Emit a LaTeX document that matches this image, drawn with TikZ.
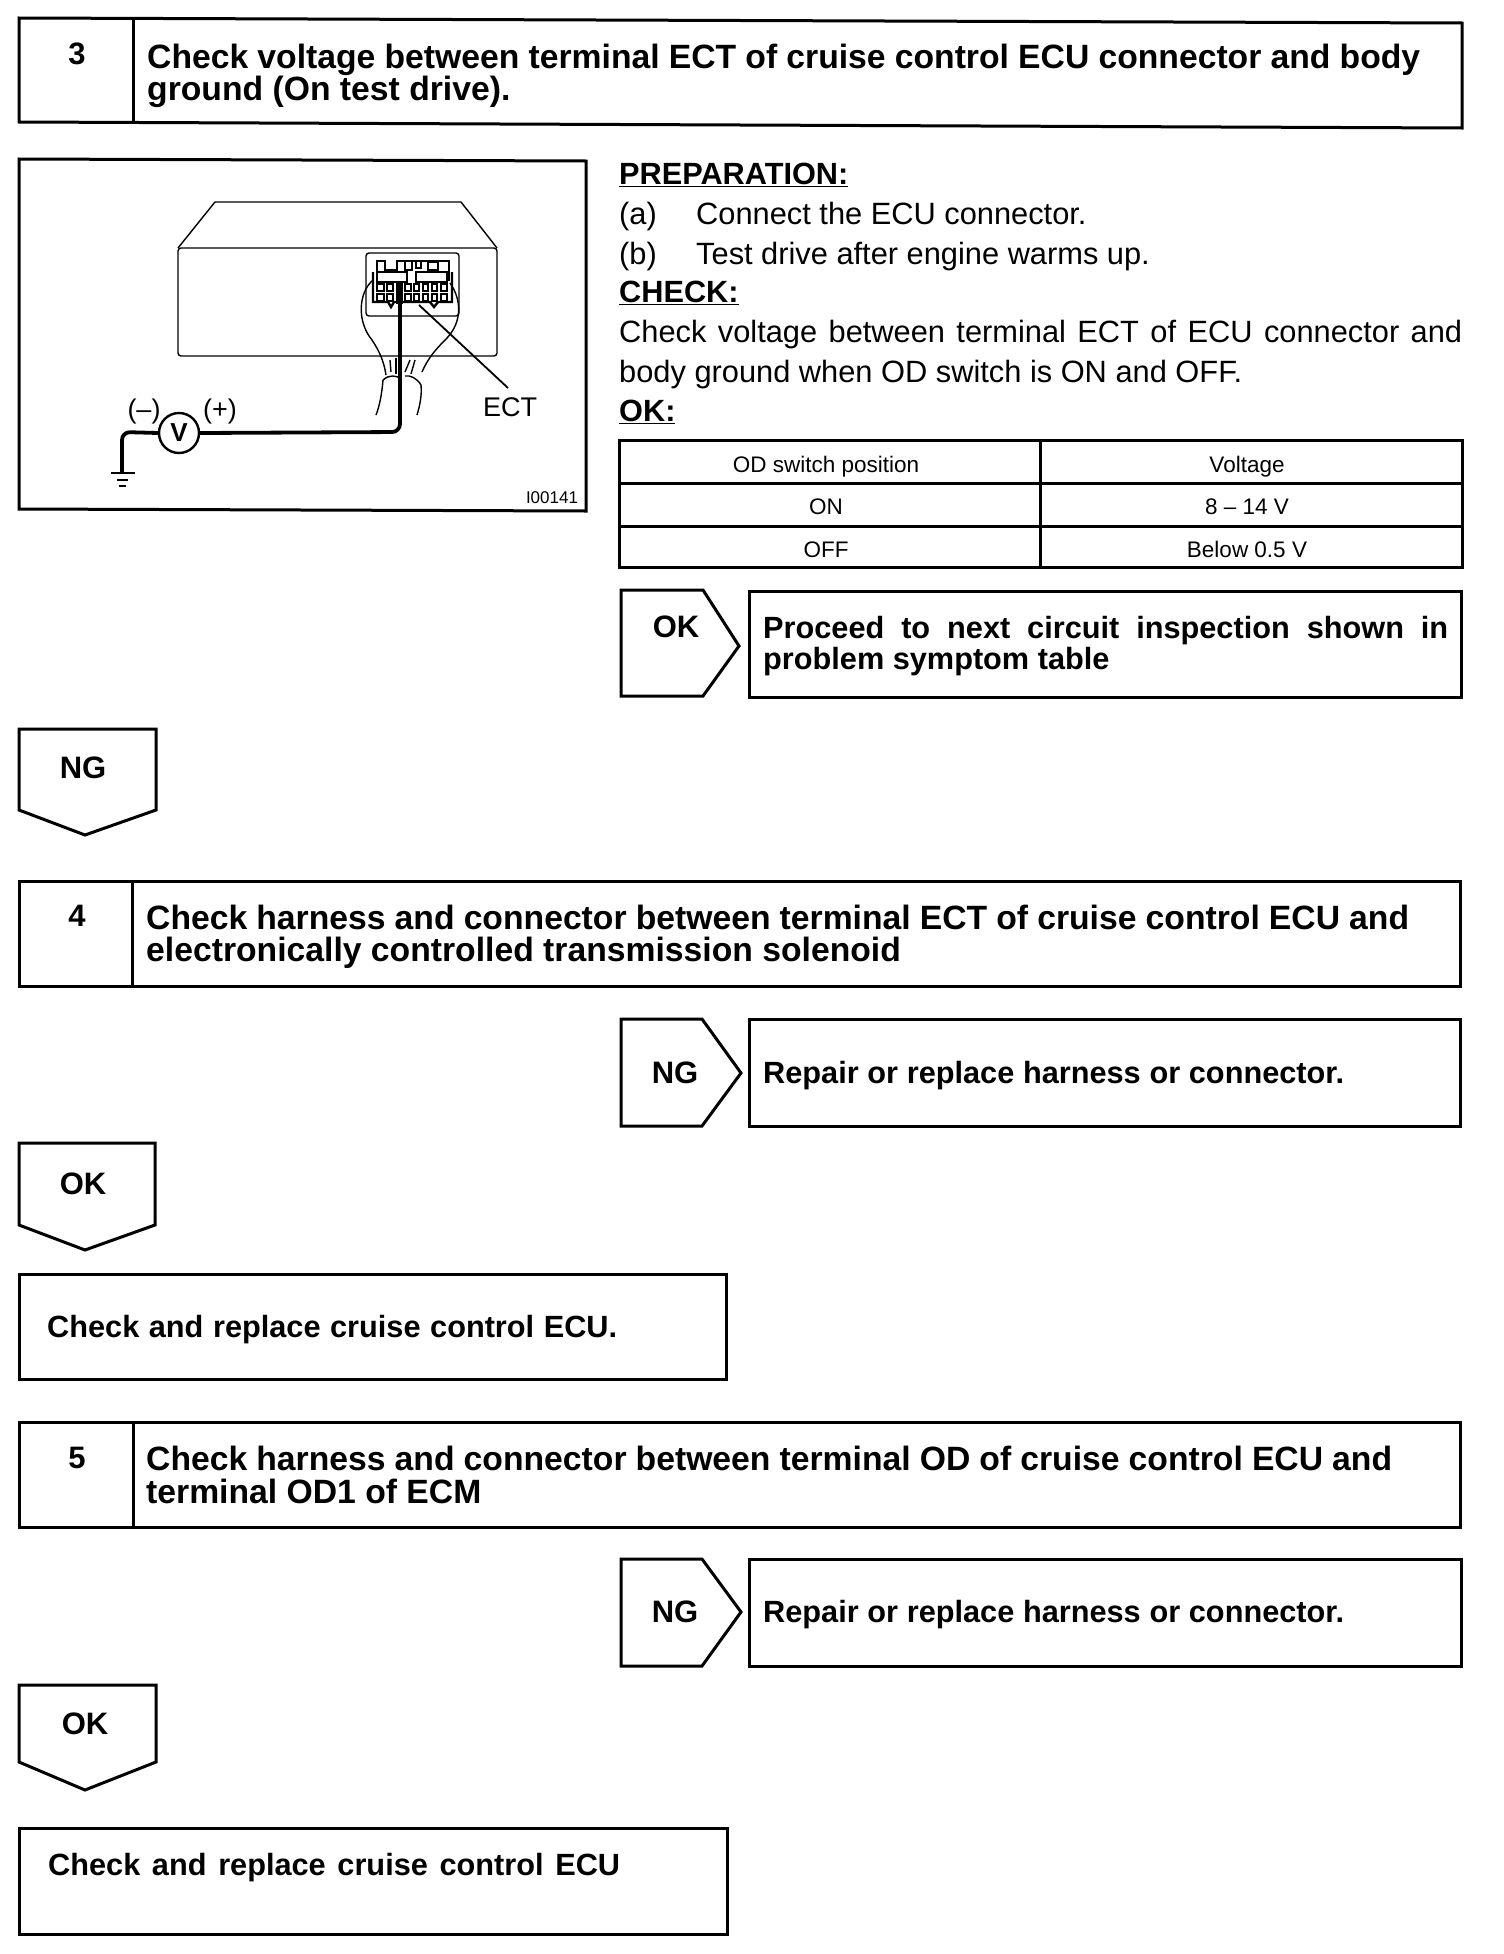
\documentclass[tikz,border=0pt]{standalone}
\usepackage{fontspec}
\setmainfont{Liberation Sans}
\newcommand{\fsz}[1]{\fontsize{#1}{#1}\selectfont}
\newcommand{\jl}[2]{\makebox[#1pt][s]{#2}}
\tikzset{
  boxline/.style={line width=3pt,line join=miter},
  thin line/.style={line width=1.4pt},
  head/.style={anchor=base west,inner sep=0pt,font=\bfseries\fsz{33.7}},
  headsmall/.style={anchor=base west,inner sep=0pt,font=\bfseries\fsz{30.7}},
  subhead/.style={anchor=base west,inner sep=0pt,font=\bfseries\fsz{30.7}},
  tag/.style={inner sep=0pt,font=\bfseries\fsz{31}},
  body/.style={anchor=base west,inner sep=0pt,font=\fsz{30.8}},
  cell/.style={inner sep=0pt,anchor=base,font=\fsz{22.5}},
  wire/.style={line width=3.8pt,line join=round,rounded corners=8pt},
  lab/.style={inner sep=0pt,font=\fsz{27}},
}
\begin{document}
\begin{tikzpicture}[x=1pt,y=-1pt]
\useasboundingbox (0,0) rectangle (1504,1954);
\fill[white] (0,0) rectangle (1504,1954);
% ---- box 3
\draw[boxline] (19,18) -- (1462,23) -- (1462,128) -- (19,122) -- cycle;
\draw[boxline] (133,19) -- (133,122);
\node[tag] (n3) at (77,54) {3};
\node[head] (t3a) at (147,68) {\jl{1273}{Check voltage between terminal ECT of cruise control ECU connector and body}};
\node[head] (t3b) at (147,100) {ground (On test drive).};
% ---- illustration
\draw[boxline] (19,159) -- (586,161) -- (586,511) -- (19,509) -- cycle;
\draw[thin line,line join=round] (178,248) -- (215,202) -- (461,202) -- (497,248);
\draw[thin line,rounded corners=3pt] (178,248) -- (497,248) -- (497,356) -- (178,356) -- cycle;
\draw[thin line,rounded corners=3pt] (366,253) -- (459,253) -- (459,316) -- (366,316) -- cycle;
% connector
\draw[line width=2.4pt] (377,281) -- (377,261) -- (385,261) -- (385,270) -- (397,270) -- (397,261) -- (449,261) -- (449,281);
\draw[line width=2.4pt] (373,272) -- (373,302) -- (388,302) -- (391,307) -- (394,302) -- (430,302) -- (434,307) -- (438,302) -- (452,302) -- (452,272);
\draw[line width=1.6pt] (377,272) rectangle (407,282);
\draw[line width=1.6pt] (416,272) rectangle (447,282);
\foreach \xa/\xb in {377/384,387/393,405/411,414/419,423/428,432/437,441/447}{
  \draw[line width=1.8pt] (\xa,284) rectangle (\xb,291);
  \draw[line width=1.8pt] (\xa,294) rectangle (\xb,301);
}
\fill (396,282) rectangle (403,304);
\draw[line width=1.5pt] (405,261) rectangle (412,270);
\draw[line width=1.5pt] (416,261) rectangle (421,268);
\draw[line width=1.5pt] (428,262) rectangle (438,270);
% harness
\draw[thin line] (373,280) .. controls (358,293) and (357,322) .. (372,340) .. controls (380,352) and (384,362) .. (386,375);
\draw[thin line] (450,283) .. controls (462,300) and (462,322) .. (447,338) .. controls (436,349) and (428,358) .. (422,372);
\draw[thin line] (383,380) .. controls (382,392) and (380,405) .. (376,415);
\draw[thin line] (421,385) .. controls (422,395) and (420,405) .. (417,415);
\draw[thin line] (383,380) .. controls (390,374) and (396,376) .. (400,378);
\draw[thin line] (405,376) .. controls (410,375) and (417,378) .. (421,385);
\draw[thin line] (390,360) -- (391,372);
\draw[thin line] (396,358) -- (396,374);
\draw[thin line] (410,360) -- (405,372);
\draw[thin line] (415,360) -- (411,374);
\coordinate (wtop) at (400,304);
\node[draw,circle,line width=2.4pt,minimum size=40pt,inner sep=0pt,font=\bfseries\fsz{26}] (vm) at (179,433) {V};
\draw[wire] (wtop) -- (400,432) -- (vm.east);
\coordinate (gnd) at (122,473);
\draw[wire] (vm.west) -- (122,432) -- (gnd);
\coordinate (gl) at (111,473); \coordinate (gr) at (135,473);
\draw[line width=2.4pt] (gl) -- (gr);
\draw[line width=2pt] (117,480) -- (128,480);
\draw[line width=2pt] (119,486) -- (126,486);
\node[lab] (ect) at (510,407) {ECT};
\coordinate (ecttip) at (508,388);
\draw[line width=1.8pt] (419,305) -- (ecttip);
\node[lab] (minus) at (144,412) {(–)};
\node[lab] (plus) at (220,412) {(+)};
\node[inner sep=0pt,font=\fsz{17}] (code) at (552,498) {I00141};
% ---- text right
\node[subhead] (prep) at (619,184) {\underline{PREPARATION:}};
\node[body] (pa) at (619,224) {(a)};
\node[body] (pat) at (696,224) {Connect the ECU connector.};
\node[body] (pb) at (619,264) {(b)};
\node[body] (pbt) at (696,264) {Test drive after engine warms up.};
\node[subhead] (chk) at (619,302) {\underline{CHECK:}};
\node[body] (c1) at (619,342) {\jl{843}{Check voltage between terminal ECT of ECU connector and}};
\node[body] (c2) at (619,382) {body ground when OD switch is ON and OFF.};
\node[subhead] (okh) at (619,421) {\underline{OK:}};
% table
\draw[boxline] (619,440) rectangle (1462,567);
\draw[boxline] (619,483) -- (1462,483);
\draw[boxline] (619,526) -- (1462,526);
\draw[boxline] (1040,440) -- (1040,567);
\node[cell] (c11) at (826,472) {OD switch position};
\node[cell] (c12) at (1247,472) {Voltage};
\node[cell] (c21) at (826,514) {ON};
\node[cell] (c22) at (1247,514) {8 – 14 V};
\node[cell] (c31) at (826,557) {OFF};
\node[cell] (c32) at (1247,557) {Below 0.5 V};
% OK arrow
\draw[boxline] (621,590) -- (703,590) -- (739,646) -- (703,696) -- (621,696) -- cycle;
\node[tag] (ok1) at (676,627) {OK};
\draw[boxline] (749,591) rectangle (1461,697);
\node[headsmall] (p1) at (763,638) {\jl{685}{Proceed to next circuit inspection shown in}};
\node[headsmall] (p2) at (763,669) {problem symptom table};
% NG down
\draw[boxline] (19,729) -- (156,729) -- (156,810) -- (85,835) -- (19,810) -- cycle;
\node[tag] (ng1) at (83,768) {NG};
% ---- box 4
\draw[boxline] (19,881) rectangle (1460,986);
\draw[boxline] (132,881) -- (132,986);
\node[tag] (n4) at (77,916) {4};
\node[head] (t4a) at (146,929) {\jl{1263}{Check harness and connector between terminal ECT of cruise control ECU and}};
\node[head] (t4b) at (146,961) {electronically controlled transmission solenoid};
% NG arrow
\draw[boxline] (621,1019) -- (702,1019) -- (741,1073) -- (702,1126) -- (621,1126) -- cycle;
\node[tag] (ng2) at (675,1073) {NG};
\draw[boxline] (749,1019) rectangle (1460,1126);
\node[headsmall] (r1) at (763,1083) {\jl{581}{Repair or replace harness or connector.}};
% OK down
\draw[boxline] (19,1143) -- (155,1143) -- (155,1225) -- (85,1250) -- (19,1225) -- cycle;
\node[tag] (ok2) at (83,1184) {OK};
\draw[boxline] (19,1274) rectangle (726,1379);
\node[headsmall] (e1) at (47,1337) {\jl{570}{Check and replace cruise control ECU.}};
% ---- box 5
\draw[boxline] (19,1422) rectangle (1460,1527);
\draw[boxline] (133,1422) -- (133,1527);
\node[tag] (n5) at (77,1458) {5};
\node[head] (t5a) at (146,1470) {\jl{1246}{Check harness and connector between terminal OD of cruise control ECU and}};
\node[head] (t5b) at (146,1503) {terminal OD1 of ECM};
% NG arrow
\draw[boxline] (621,1559) -- (702,1559) -- (741,1612) -- (702,1666) -- (621,1666) -- cycle;
\node[tag] (ng3) at (675,1612) {NG};
\draw[boxline] (749,1559) rectangle (1461,1666);
\node[headsmall] (r2) at (763,1622) {\jl{581}{Repair or replace harness or connector.}};
% OK down
\draw[boxline] (19,1685) -- (156,1685) -- (156,1762) -- (85,1790) -- (19,1762) -- cycle;
\node[tag] (ok3) at (85,1724) {OK};
\draw[boxline] (19,1828) rectangle (727,1934);
\node[headsmall] (e2) at (48,1875) {\jl{572}{Check and replace cruise control ECU}};
\end{tikzpicture}
\end{document}
